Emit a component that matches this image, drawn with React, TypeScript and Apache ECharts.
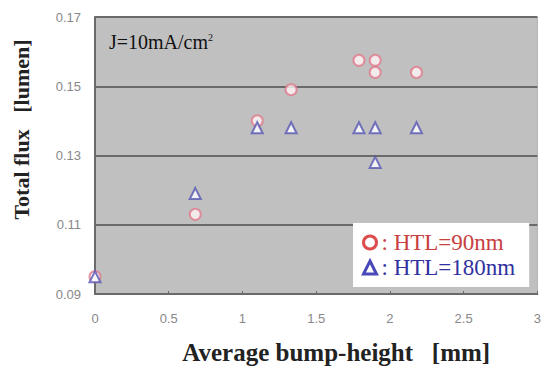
import React, { useEffect, useRef } from "react";
import * as echarts from "echarts";

const htl90X = [0, 0.68, 1.1, 1.33, 1.79, 1.9, 1.9, 2.18];
const htl90Y = [0.095, 0.113, 0.140, 0.149, 0.1575, 0.1575, 0.154, 0.154];
const htl180X = [0, 0.68, 1.1, 1.33, 1.79, 1.9, 1.9, 2.18];
const htl180Y = [0.095, 0.119, 0.138, 0.138, 0.138, 0.138, 0.128, 0.138];
const seriesNames = ["HTL=90nm", "HTL=180nm"];
const xTicks = [0, 0.5, 1, 1.5, 2, 2.5, 3];
const yTicks = [0.09, 0.11, 0.13, 0.15, 0.17];

export default function App() {
  const ref = useRef<HTMLDivElement>(null);
  useEffect(() => {
    if (!ref.current) return;
    const chart = echarts.init(ref.current, null, { renderer: "svg" });
    chart.setOption({
      animation: false,
      backgroundColor: "#ffffff",
      grid: { left: 95, right: 5, top: 17, bottom: 73, show: true, backgroundColor: "#c0c0c0", borderColor: "#b0b0b0", borderWidth: 1 },
      xAxis: {
        type: "value",
        min: xTicks[0],
        max: xTicks[xTicks.length - 1],
        interval: 0.5,
        name: "Average bump-height   [mm]",
        nameLocation: "middle",
        nameGap: 46,
        nameTextStyle: { fontFamily: "Liberation Serif", fontSize: 25, fontWeight: "bold", color: "#222", padding: [0, 0, 0, 40] },
        axisLine: { show: true, lineStyle: { color: "#6a6a6a", width: 2 } },
        axisTick: { show: true, inside: true, length: 3, lineStyle: { color: "#6a6a6a" } },
        axisLabel: { fontFamily: "Liberation Sans", fontSize: 13, color: "#888888", margin: 18, formatter: (v: number) => String(v) },
        splitLine: { show: false },
      },
      yAxis: {
        type: "value",
        min: yTicks[0],
        max: yTicks[yTicks.length - 1],
        interval: 0.02,
        name: "Total flux   [lumen]",
        nameLocation: "middle",
        nameGap: 63,
        nameTextStyle: { fontFamily: "Liberation Serif", fontSize: 22, fontWeight: "bold", color: "#222", padding: [0, 0, 0, 52] },
        axisLine: { show: true, lineStyle: { color: "#6a6a6a", width: 2 } },
        axisTick: { show: false },
        axisLabel: { fontFamily: "Liberation Sans", fontSize: 13, color: "#888888", margin: 14, formatter: (v: number) => v.toFixed(2) },
        splitLine: { show: true, lineStyle: { color: "#6a6a6a", width: 2 } },
      },
      legend: {
        left: 353,
        top: 223,
        orient: "vertical",
        backgroundColor: "#ffffff",
        padding: [8, 14, 8, 9],
        itemGap: 2,
        itemWidth: 13,
        itemHeight: 13,
        formatter: ": {name}",
        textStyle: { fontFamily: "Liberation Serif", fontSize: 23 },
        data: [
          { name: seriesNames[0], icon: "circle", itemStyle: { color: "#ffffff", borderColor: "#d42020", borderWidth: 3 }, textStyle: { color: "#c84040" } },
          { name: seriesNames[1], icon: "triangle", itemStyle: { color: "#ffffff", borderColor: "#1c1ca8", borderWidth: 3 }, textStyle: { color: "#3030a0" } },
        ],
      },
      graphic: [
        {
          type: "text",
          left: 109,
          top: 32,
          style: {
            text: "J=10mA/cm{sup|2}",
            font: "20px 'Liberation Serif'",
            fill: "#111",
            rich: { sup: { fontSize: 10, fontFamily: "Liberation Serif", verticalAlign: "top", padding: [0, 0, 8, 0], fill: "#111" } },
          },
        },
      ],
      series: [
        {
          name: seriesNames[0],
          type: "scatter",
          symbol: "circle",
          symbolSize: 11,
          itemStyle: { color: "#fff4f6", borderColor: "#e07a8c", borderWidth: 2 },
          data: htl90X.map((x, i) => [x, htl90Y[i]]),
        },
        {
          name: seriesNames[1],
          type: "scatter",
          symbol: "triangle",
          symbolSize: 11,
          itemStyle: { color: "#ffffff", borderColor: "#5656b4", borderWidth: 2 },
          data: htl180X.map((x, i) => [x, htl180Y[i]]),
        },
      ],
    });
    return () => chart.dispose();
  }, []);
  return <div ref={ref} style={{ width: 544, height: 370, position: "fixed", left: 0, top: 0 }} />;
}
